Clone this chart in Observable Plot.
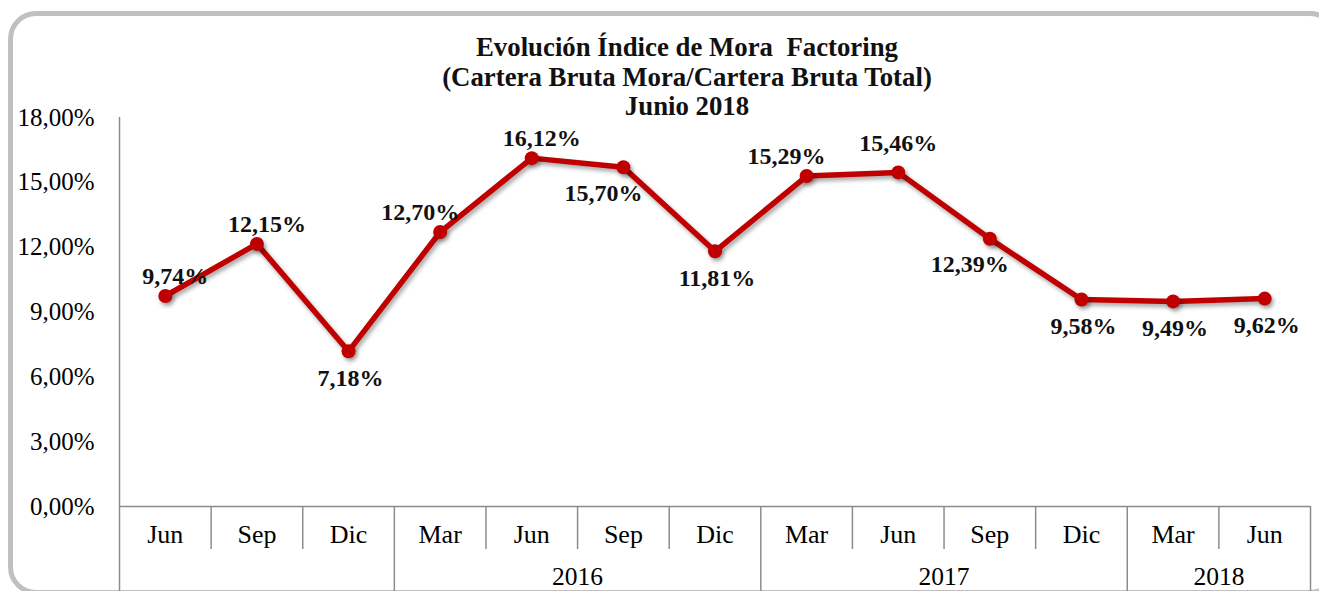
<!DOCTYPE html>
<html>
<head>
<meta charset="utf-8">
<script src="https://cdn.jsdelivr.net/npm/d3@7"></script>
<script src="https://cdn.jsdelivr.net/npm/@observablehq/plot@0.6"></script>
<style>
  html, body { margin: 0; padding: 0; background: #fff; overflow: hidden; }
  #wrap { position: relative; width: 1319px; height: 591px; overflow: hidden; font-family: "Liberation Serif", "Times New Roman", serif; }
  #frame { position: absolute; left: 8px; top: 11px; width: 1320px; height: 574px; border: 5px solid #c0c0c0; border-radius: 28px; box-sizing: content-box; }
  #title { position: absolute; left: 0; width: 1374px; top: 33px; text-align: center; font-weight: bold; font-size: 26.8px; line-height: 29.5px; color: #111; white-space: pre; }
  #chart { position: absolute; left: 0; top: 0; }
  #chart g[aria-label="line"], #chart g[aria-label="dot"] { filter: drop-shadow(2px 3px 2px rgba(0,0,0,0.35)); }
</style>
</head>
<body>
<div id="wrap">
  <div id="frame"></div>
  <div id="chart"></div>
  <div id="title"></div>
</div>
<script>
const titleLines = ["Evolución Índice de Mora  Factoring", "(Cartera Bruta Mora/Cartera Bruta Total)", "Junio 2018"];
const months = ["Jun", "Sep", "Dic", "Mar", "Jun", "Sep", "Dic", "Mar", "Jun", "Sep", "Dic", "Mar", "Jun"];
const years  = ["", "", "", "2016", "2016", "2016", "2016", "2017", "2017", "2017", "2017", "2018", "2018"];
const values = [9.74, 12.15, 7.18, 12.70, 16.12, 15.70, 11.81, 15.29, 15.46, 12.39, 9.58, 9.49, 9.62];
const labelSide = ["above-right", "above-right", "below", "above-left", "above-right", "below-left", "below", "above-left", "above", "below-left", "below", "below", "below"];
const yTicks = [0, 3, 6, 9, 12, 15, 18];
const yTickLabels = ["0,00%", "3,00%", "6,00%", "9,00%", "12,00%", "15,00%", "18,00%"];

document.getElementById("title").textContent = titleLines.join("\n");

const data = values.map((v, i) => ({
  i, pos: i + 0.5, value: v, month: months[i], year: years[i], side: labelSide[i],
  label: v.toFixed(2).replace(".", ",") + "%"
}));

// year groups (consecutive runs)
const groups = [];
years.forEach((y, i) => {
  const last = groups[groups.length - 1];
  if (last && last.year === y) last.end = i + 1;
  else groups.push({year: y, start: i, end: i + 1});
});
const groupBounds = Array.from(new Set(groups.flatMap(g => [g.start, g.end])));
const monthBounds = d3.range(1, months.length).filter(b => !groupBounds.includes(b));
const groupLabels = groups.map(g => ({year: g.year, center: (g.start + g.end) / 2}));

const offsets = {
  "above":       {dx: 0,   dy: -29},
  "above-right": {dx: 10,  dy: -20},
  "above-left":  {dx: -20, dy: -20},
  "below":       {dx: 2,   dy: 27},
  "below-left":  {dx: -20, dy: 26},
  "below-right": {dx: 9,   dy: 29}
};

const red = "#c00000";
const axisGray = "#8c8c8c";

const plot = Plot.plot({
  width: 1319,
  height: 591,
  marginLeft: 119,
  marginRight: 9,
  marginTop: 117,
  marginBottom: 85,
  style: {fontFamily: "'Liberation Serif', 'Times New Roman', serif", fontSize: "25px", color: "#000", background: "transparent", overflow: "visible"},
  x: {type: "linear", domain: [0, months.length], label: null},
  y: {domain: [0, 18], label: null},
  marks: [
    Plot.axisY(yTicks, {tickSize: 0, tickPadding: 25, tickFormat: (d) => yTickLabels[yTicks.indexOf(d)], fontSize: 25, label: null}),
    Plot.ruleX([0], {stroke: axisGray, strokeWidth: 1.5}),
    Plot.ruleY([0], {stroke: axisGray, strokeWidth: 1.5}),
    Plot.axisX(monthBounds, {tickSize: 43, tickFormat: () => "", stroke: axisGray, strokeWidth: 1.5, strokeOpacity: 1, label: null}),
    Plot.axisX(groupBounds, {tickSize: 85, tickFormat: () => "", stroke: axisGray, strokeWidth: 1.5, strokeOpacity: 1, label: null}),
    Plot.text(data, {x: "pos", y: () => 0, text: "month", dy: 28, fontSize: 26, fill: "#000"}),
    Plot.text(groupLabels, {x: "center", y: () => 0, text: "year", dy: 70, fontSize: 25.5, fill: "#000"}),
    Plot.line(data, {x: "pos", y: "value", stroke: red, strokeWidth: 5.5, strokeLinejoin: "round"}),
    Plot.dot(data, {x: "pos", y: "value", r: 7, fill: red, stroke: "none"}),
    ...Object.entries(offsets).map(([side, o]) =>
      Plot.text(data, {filter: (d) => d.side === side, x: "pos", y: "value", text: "label", dx: o.dx, dy: o.dy, fontSize: 24, fontWeight: "bold", fill: "#111"})
    )
  ]
});
document.getElementById("chart").appendChild(plot);
</script>
</body>
</html>
